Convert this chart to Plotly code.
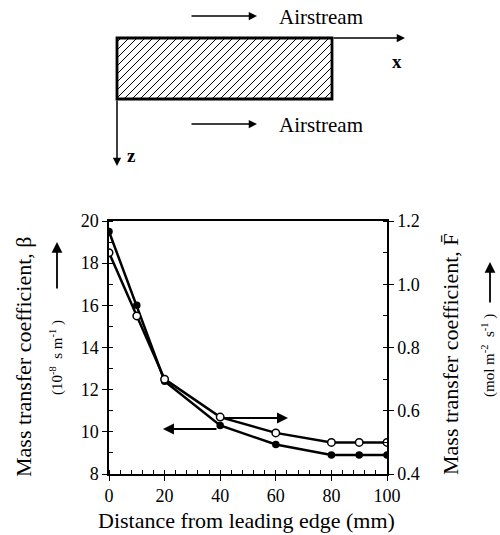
import plotly.graph_objects as go

# ---- data ----
distance_mm = [0, 10, 20, 40, 60, 80, 90, 100]
beta_filled = [19.5, 16.0, 12.4, 10.3, 9.4, 8.9, 8.9, 8.9]        # left axis, 10^-8 s m^-1
flux_open = [1.10, 0.90, 0.70, 0.58, 0.53, 0.50, 0.50, 0.50]     # right axis, mol m^-2 s^-1

x_ticks = [0, 20, 40, 60, 80, 100]
beta_ticks = [8, 10, 12, 14, 16, 18, 20]
flux_ticks = [0.4, 0.6, 0.8, 1.0, 1.2]

W, H = 500, 535
L, R, T, B = 109, 113, 221, 61
PW, PH = W - L - R, H - T - B
SERIF = "Liberation Serif, Times New Roman, serif"


def px(x):
    return (x - L) / PW


def py(y):
    return (H - B - y) / PH


fig = go.Figure()
fig.add_trace(go.Scatter(
    x=distance_mm, y=beta_filled, mode="lines+markers",
    line=dict(color="black", width=2.5),
    marker=dict(symbol="circle", size=7.5, color="black"),
    showlegend=False, yaxis="y"))
fig.add_trace(go.Scatter(
    x=distance_mm, y=flux_open, mode="lines+markers",
    line=dict(color="black", width=2.5),
    marker=dict(symbol="circle", size=7.5, color="white", line=dict(color="black", width=1.5)),
    showlegend=False, yaxis="y2"))

axis_common = dict(showline=True, linecolor="black", linewidth=1.5, showgrid=False,
                   zeroline=False, ticks="outside", ticklen=5, tickwidth=1.2, tickcolor="black",
                   tickfont=dict(family=SERIF, size=18, color="black"))

fig.update_layout(
    width=W, height=H, margin=dict(l=L, r=R, t=T, b=B),
    plot_bgcolor="white", paper_bgcolor="white",
    xaxis=dict(range=[0, 100], tickvals=x_ticks, mirror=True,
               minor=dict(dtick=4, ticks="inside", ticklen=4, tickcolor="black"),
               **axis_common),
    yaxis=dict(range=[8, 20], tickvals=beta_ticks,
               minor=dict(dtick=1, ticks="inside", ticklen=4, tickcolor="black"),
               **axis_common),
    yaxis2=dict(range=[0.4, 1.2], tickvals=flux_ticks, tickformat=".1f",
                overlaying="y", side="right",
                minor=dict(dtick=0.1, ticks="inside", ticklen=4, tickcolor="black"),
                **axis_common),
)


def label(text, x, y, size, angle=0, xanchor="center"):
    return dict(text=text, x=px(x), y=py(y), xref="paper", yref="paper", textangle=angle,
                xanchor=xanchor, yanchor="middle", showarrow=False,
                font=dict(family=SERIF, size=size, color="black"))


ann = []
# axis titles
ann.append(label("Mass transfer coefficient, β", 23, 357, 22, -90))
ann.append(label("(10<sup>-8</sup>  s m<sup>-1</sup> )", 56, 358, 15, -90))
ann.append(label("Mass transfer coefficient, F\u0304", 450, 354, 22, -90))
ann.append(label("(mol m<sup>-2</sup>  s<sup>-1</sup> )", 488, 356, 15, -90))
ann.append(label("Distance from leading edge (mm)", 246, 520, 22))

arrow_style = dict(showarrow=True, arrowhead=2, arrowsize=1.1, arrowwidth=1.5, arrowcolor="black", text="")
# unit arrows
ann.append(dict(x=px(57), y=py(242), xref="paper", yref="paper", ax=0, ay=48,
                showarrow=True, arrowhead=2, arrowsize=1.2, arrowwidth=1.8, arrowcolor="black", text=""))
ann.append(dict(x=px(490), y=py(262), xref="paper", yref="paper", ax=0, ay=42,
                showarrow=True, arrowhead=2, arrowsize=1.2, arrowwidth=1.8, arrowcolor="black", text=""))

# in-plot axis indicator arrows
ann.append(dict(x=19.4, y=10.13, xref="x", yref="y", axref="x", ayref="y", ax=39.2, ay=10.13,
                showarrow=True, arrowhead=2, arrowsize=1.1, arrowwidth=2, arrowcolor="black", text=""))
ann.append(dict(x=64.4, y=10.66, xref="x", yref="y", axref="x", ayref="y", ax=41.0, ay=10.66,
                showarrow=True, arrowhead=2, arrowsize=1.1, arrowwidth=2, arrowcolor="black", text=""))

# diagram: axes arrows
ann.append(dict(x=px(405), y=py(38), xref="paper", yref="paper", ax=-73, ay=0, **arrow_style))
ann.append(dict(x=px(117), y=py(166), xref="paper", yref="paper", ax=0, ay=-67, **arrow_style))
ann.append(label("<b>x</b>", 397, 61, 19))
ann.append(label("<b>z</b>", 131, 155, 19))
# airstream arrows
for yy in (16, 124):
    ann.append(dict(x=px(257), y=py(yy), xref="paper", yref="paper", ax=-67, ay=0, **arrow_style))
    ann.append(label("Airstream", 277, yy + 1, 21, 0, "left"))
fig.update_layout(annotations=ann)

# diagram: hatched rectangle
rx0, rx1, ry0, ry1 = 117, 332, 38, 99
shapes = [dict(type="rect", xref="paper", yref="paper", x0=px(rx0), x1=px(rx1), y0=py(ry1), y1=py(ry0),
               line=dict(color="black", width=2.8), fillcolor="rgba(0,0,0,0)")]
h = ry1 - ry0
step = 8
s = rx0 - h + 4
while s < rx1:
    xa, ya = s, ry1
    xb, yb = s + h, ry0
    if xa < rx0:
        ya = ry1 - (rx0 - xa)
        xa = rx0
    if xb > rx1:
        yb = ry0 + (xb - rx1)
        xb = rx1
    if xb > xa:
        shapes.append(dict(type="line", xref="paper", yref="paper", x0=px(xa), y0=py(ya), x1=px(xb), y1=py(yb),
                           line=dict(color="black", width=1)))
    s += step
fig.update_layout(shapes=shapes)

fig.write_html("out.html")
